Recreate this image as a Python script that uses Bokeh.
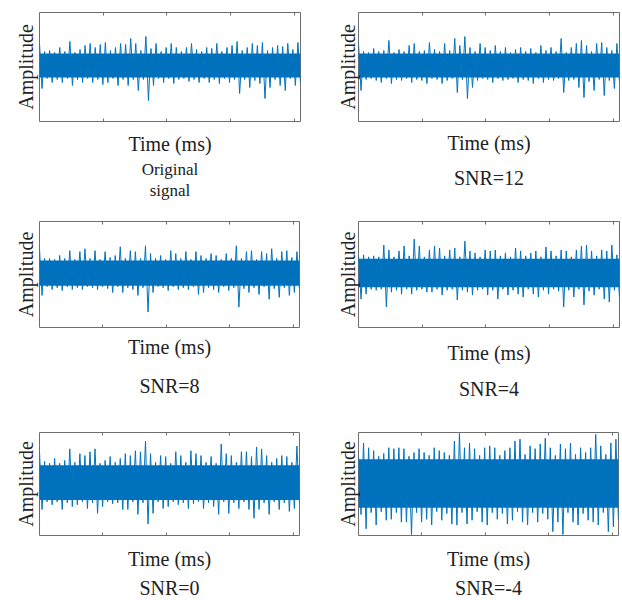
import numpy as np
from bokeh.plotting import figure
from bokeh.layouts import column, row
from bokeh.models import Range1d, LinearAxis, FixedTicker, Title
from bokeh.embed import file_html
from bokeh.resources import INLINE

# ---- data -------------------------------------------------------------
N_SAMPLES = 4096
TICKS = [1000, 2000, 3000, 4000]

captions = [["Original", "signal"], ["SNR=12"], ["SNR=8"], ["SNR=4"], ["SNR=0"], ["SNR=-4"]]

# positive / negative peaks of each waveform, one pair per time slot
orig_hi = [22, 14, 15, 13, 18, 14, 24, 13, 16, 20, 22, 18, 21, 23, 15, 18, 22, 21, 27, 22, 15, 29, 17, 22, 14, 18,
           22, 18, 14, 18, 22, 16, 14, 18, 17, 22, 14, 18, 20, 24, 15, 18, 22, 20, 23, 15, 18, 20, 19, 22, 16, 23]
orig_lo = [-23, -13, -17, -14, -17, -13, -20, -14, -17, -13, -17, -14, -19, -17, -13, -20, -14, -20, -14, -25, -14, -35,
           -20, -13, -17, -13, -18, -14, -13, -16, -14, -17, -13, -17, -14, -18, -13, -17, -14, -28, -14, -22, -15, -18,
           -33, -22, -14, -20, -25, -13, -20, -17]

snr12_hi = [22, 14, 13, 17, 14, 15, 25, 13, 16, 14, 20, 22, 14, 15, 23, 16, 14, 22, 15, 27, 20, 29, 18, 14, 22, 18,
            15, 20, 14, 18, 13, 16, 18, 14, 17, 13, 20, 15, 18, 14, 27, 13, 18, 22, 25, 20, 14, 22, 23, 18, 15, 22]
snr12_lo = [-25, -14, -13, -15, -17, -13, -18, -14, -15, -13, -17, -14, -15, -18, -13, -14, -18, -15, -13, -27, -14,
            -33, -22, -15, -13, -14, -17, -13, -15, -14, -13, -17, -14, -15, -18, -13, -17, -14, -15, -13, -27, -15,
            -14, -22, -32, -16, -25, -14, -30, -15, -23, -16]

snr8_hi = [25, 15, 15, 14, 18, 15, 23, 14, 22, 25, 15, 23, 14, 22, 16, 18, 27, 15, 23, 22, 15, 28, 20, 15, 18, 14,
           23, 20, 15, 22, 14, 22, 18, 15, 20, 18, 14, 20, 15, 28, 15, 22, 23, 14, 22, 20, 25, 15, 22, 23, 16, 22]
snr8_lo = [-23, -14, -17, -15, -18, -14, -17, -15, -17, -14, -15, -17, -14, -16, -20, -14, -20, -15, -17, -23, -15,
           -40, -20, -14, -15, -18, -14, -17, -15, -17, -14, -22, -20, -15, -17, -20, -14, -18, -15, -35, -16, -20,
           -15, -22, -14, -27, -16, -25, -15, -23, -20, -16]

snr4_hi = [17, 18, 16, 17, 16, 28, 23, 16, 22, 27, 17, 34, 27, 16, 23, 27, 25, 17, 23, 25, 16, 32, 22, 20, 16, 23,
           22, 23, 17, 20, 16, 25, 22, 17, 20, 22, 16, 26, 22, 17, 23, 22, 16, 23, 27, 28, 22, 17, 23, 22, 28, 18]
snr4_lo = [-27, -22, -17, -18, -17, -35, -20, -18, -22, -17, -22, -18, -17, -20, -20, -17, -23, -18, -17, -28, -18,
           -20, -23, -18, -17, -23, -18, -27, -17, -23, -18, -22, -25, -17, -22, -25, -18, -22, -17, -19, -35, -18,
           -25, -17, -33, -19, -23, -17, -27, -30, -18, -25]

snr0_hi = [32, 22, 20, 25, 20, 23, 35, 21, 30, 28, 32, 35, 20, 23, 27, 21, 25, 30, 28, 33, 32, 43, 30, 21, 28, 27,
           20, 32, 28, 21, 33, 30, 28, 21, 27, 20, 40, 30, 28, 21, 32, 32, 27, 37, 35, 28, 21, 25, 28, 27, 21, 38]
snr0_lo = [-28, -20, -23, -20, -28, -21, -25, -23, -20, -27, -21, -32, -25, -20, -22, -21, -28, -28, -20, -33, -21,
           -43, -32, -20, -27, -25, -20, -23, -21, -27, -22, -20, -27, -21, -25, -33, -20, -32, -21, -27, -20, -28,
           -37, -28, -21, -33, -20, -28, -21, -30, -27, -21]

snrm4_hi = [30, 43, 38, 35, 29, 32, 38, 37, 38, 37, 29, 33, 37, 33, 30, 38, 35, 33, 30, 45, 53, 38, 43, 37, 30, 38,
            40, 38, 30, 35, 38, 45, 47, 31, 40, 37, 42, 48, 38, 30, 42, 37, 43, 31, 38, 33, 38, 52, 40, 31, 43, 47]
snrm4_lo = [-32, -47, -30, -43, -29, -38, -37, -30, -40, -40, -53, -30, -40, -37, -43, -29, -38, -31, -42, -43, -30,
            -42, -38, -29, -40, -43, -30, -37, -31, -42, -38, -29, -40, -43, -30, -40, -31, -37, -50, -40, -53, -30,
            -40, -43, -31, -38, -40, -43, -30, -50, -45, -38]

# dense core of each waveform (upper, lower)
core_hi = [12, 12, 13, 14, 18, 26]
core_lo = [-12, -12, -13, -15, -18, -25]

peaks = [(orig_hi, orig_lo), (snr12_hi, snr12_lo), (snr8_hi, snr8_lo),
         (snr4_hi, snr4_lo), (snr0_hi, snr0_lo), (snrm4_hi, snrm4_lo)]

# ---- layout -----------------------------------------------------------
# fig_w, fig_h, border_left, border_top, frame_w, frame_h, baseline (px below frame top)
geometry = [
    (311, 206, 39, 12, 261, 109, 53),
    (311, 206, 47, 12, 261, 109, 53),
    (311, 210, 39, 12, 260, 109, 53),
    (311, 210, 47, 15, 261, 108, 52),
    (311, 184, 39, 16, 260, 107, 52),
    (311, 184, 47, 16, 260, 108, 54),
]
# amplitude standoff, time standoff, caption standoffs, caption size, caption line height
label_style = [
    (3, 11, [0, 0], "17px", 0.6),
    (0, 10, [16], "20px", 1.0),
    (3, 8, [24], "20px", 1.0),
    (0, 14, [18], "20px", 1.0),
    (3, 12, [4], "20px", 0.6),
    (0, 12, [4], "20px", 0.6),
]

BLUE = "#0072BD"
FRAME = "#6e6e6e"
TEXT = "#222222"
FONT = "Liberation Serif"
FSIZE = "20px"


def style_label(ax, text, standoff):
    ax.axis_label = text
    ax.axis_label_standoff = standoff
    ax.axis_label_text_font = FONT
    ax.axis_label_text_font_size = FSIZE
    ax.axis_label_text_font_style = "normal"
    ax.axis_label_text_color = TEXT


def hide_tick_labels(ax):
    ax.major_label_text_font_size = "0px"
    ax.major_label_text_color = None
    ax.major_label_standoff = 0
    ax.axis_line_color = None
    ax.minor_tick_line_color = None


def panel(i):
    fw, fh, bl, bt, w, h, c = geometry[i]
    s_amp, s_time, s_caps, cap_size, cap_lh = label_style[i]
    p = figure(width=fw, height=fh, output_backend="svg", toolbar_location=None,
               x_range=Range1d(0, N_SAMPLES), y_range=Range1d(-(h - c), c),
               min_border_left=bl, min_border_top=bt,
               min_border_right=fw - bl - w, min_border_bottom=fh - bt - h)
    p.grid.visible = False
    p.outline_line_color = FRAME
    p.outline_line_width = 1
    p.background_fill_color = "white"
    p.border_fill_color = "white"

    # left axis only carries the "Amplitude" label
    yax = p.yaxis[0]
    yax.ticker = FixedTicker(ticks=[])
    hide_tick_labels(yax)
    yax.major_tick_line_color = None
    style_label(yax, "Amplitude", s_amp)

    # bottom and top axes carry inward ticks
    p.add_layout(LinearAxis(), "above")
    for ax in p.xaxis:
        ax.ticker = FixedTicker(ticks=TICKS)
        ax.major_tick_in = 3
        ax.major_tick_out = 0
        ax.major_tick_line_color = FRAME
        hide_tick_labels(ax)
    style_label(p.below[0], "Time (ms)", s_time)

    for text, s in zip(captions[i], s_caps):
        p.add_layout(Title(text=text, align="center", standoff=s, offset=0,
                           text_font=FONT, text_font_size=cap_size, text_font_style="normal",
                           text_line_height=cap_lh, text_color=TEXT), "below")

    hi, lo = peaks[i]
    x = np.linspace(0, N_SAMPLES - 1, 2 * len(hi))
    y = np.empty(2 * len(hi))
    y[0::2] = hi
    y[1::2] = lo
    p.varea(x=[0, N_SAMPLES - 1], y1=[core_lo[i]] * 2, y2=[core_hi[i]] * 2, fill_color=BLUE)
    p.line(x, y, line_color=BLUE, line_width=1.0)
    return p


figs = [panel(i) for i in range(6)]
layout = column(row(figs[0], figs[1]), row(figs[2], figs[3]), row(figs[4], figs[5]))

open("out.html", "w").write(file_html(layout, INLINE))
